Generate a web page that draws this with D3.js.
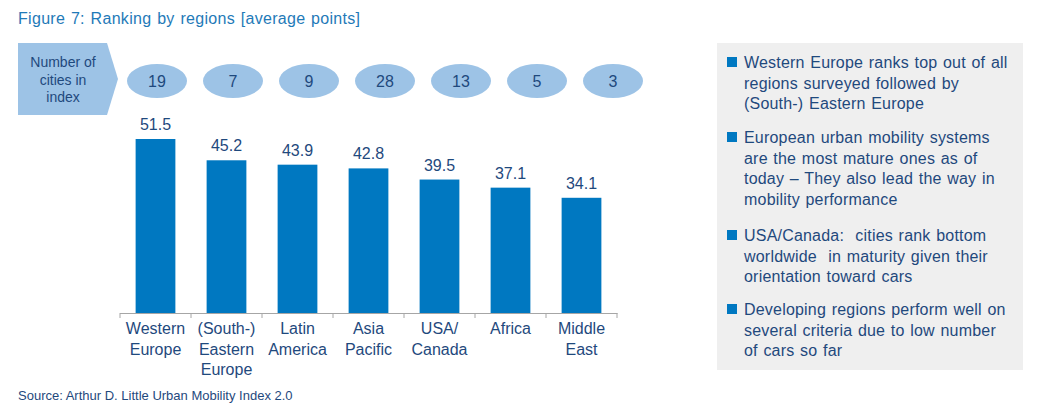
<!DOCTYPE html>
<html><head><meta charset="utf-8">
<script src="https://cdn.jsdelivr.net/npm/d3@7"></script>
<style>body{margin:0;background:#fff}svg{display:block;font-family:"Liberation Sans",Arial,sans-serif}</style>
</head><body><svg id="c" width="1043" height="415"></svg>
<script>
const categories = [["Western","Europe"],["(South-)","Eastern","Europe"],["Latin","America"],["Asia","Pacific"],["USA/","Canada"],["Africa"],["Middle","East"]];
const scores = [51.5, 45.2, 43.9, 42.8, 39.5, 37.1, 34.1];
const cityCounts = [19, 7, 9, 28, 13, 5, 3];
const bullets = [
  ["Western Europe ranks top out of all","regions surveyed followed by","(South-) Eastern Europe"],
  ["European urban mobility systems","are the most mature ones as of","today \u2013 They also lead the way in","mobility performance"],
  ["USA/Canada:  cities rank bottom","worldwide  in maturity given their","orientation toward cars"],
  ["Developing regions perform well on","several criteria due to low number","of cars so far"]
];
const title = "Figure 7: Ranking by regions [average points]";
const source = "Source: Arthur D. Little Urban Mobility Index 2.0";

const svg = d3.select("#c");
const textCol = "#1f497d", barCol = "#0078c1", ellCol = "#9dc3e6";
const keys = categories.map((c,i)=>i);

const x = d3.scaleBand().domain(keys).range([120, 617]).paddingInner(0.44).paddingOuter(0.22);
const y = d3.scaleLinear().domain([0, 51.5]).range([313, 139]);

svg.append("text").attr("x",18).attr("y",24).attr("fill","#1f7ab8").attr("font-size",16)
  .attr("letter-spacing",0.3).attr("word-spacing",1).text(title);

// bars
svg.selectAll("rect.bar").data(scores).join("rect").attr("class","bar")
  .attr("x",(d,i)=>x(i)).attr("width",x.bandwidth()).attr("y",d=>y(d)).attr("height",d=>y(0)-y(d)).attr("fill",barCol);
svg.selectAll("text.val").data(scores).join("text").attr("class","val")
  .attr("x",(d,i)=>x(i)+x.bandwidth()/2).attr("y",d=>y(d)-9).attr("text-anchor","middle")
  .attr("font-size",16).attr("fill",textCol).text(d=>d.toFixed(1));

// axis
const ax = svg.append("g").attr("transform","translate(0,313)")
  .call(d3.axisBottom(x).tickSize(0).tickFormat(""));
ax.select(".domain").attr("stroke","#a6a6a6");
const edges = keys.map(i=>x(i)-x.step()*x.paddingInner()/2).concat([x(keys.length-1)+x.bandwidth()+x.step()*x.paddingInner()/2]);
svg.selectAll("line.tk").data(edges).join("line").attr("class","tk")
  .attr("x1",d=>d).attr("x2",d=>d).attr("y1",313).attr("y2",318).attr("stroke","#a6a6a6");
svg.append("line").attr("x1",edges[0]).attr("x2",edges[edges.length-1]).attr("y1",313.5).attr("y2",313.5).attr("stroke","#a6a6a6");

categories.forEach((lines,i)=>{
  const t = svg.append("text").attr("x",x(i)+x.bandwidth()/2).attr("y",334).attr("text-anchor","middle").attr("font-size",16).attr("fill",textCol);
  lines.forEach((l,j)=>t.append("tspan").attr("x",x(i)+x.bandwidth()/2).attr("dy",j?20.5:0).text(l));
});

// number-of-cities pentagon
svg.append("path").attr("d","M18,43 L107,43 L118,79 L107,115 L18,115 Z").attr("fill",ellCol);
const pt = svg.append("text").attr("x",63).attr("y",67).attr("text-anchor","middle").attr("font-size",14).attr("fill",textCol);
["Number of","cities in","index"].forEach((l,j)=>pt.append("tspan").attr("x",63).attr("dy",j?17.5:0).text(l));

const xe = d3.scalePoint().domain(keys).range([157, 613]);
svg.selectAll("ellipse.n").data(cityCounts).join("ellipse").attr("class","n")
  .attr("cx",(d,i)=>xe(i)).attr("cy",81).attr("rx",30).attr("ry",17).attr("fill",ellCol);
svg.selectAll("text.n").data(cityCounts).join("text").attr("class","n")
  .attr("x",(d,i)=>xe(i)).attr("y",87).attr("text-anchor","middle").attr("font-size",16).attr("fill",textCol).text(d=>d);

// right panel
svg.append("rect").attr("x",717).attr("y",43).attr("width",306).attr("height",327).attr("fill","#efefef");
const starts = [68, 143, 241, 315];
bullets.forEach((b,i)=>{
  svg.append("rect").attr("x",727).attr("y",starts[i]-11).attr("width",10).attr("height",10).attr("fill",barCol);
  const t = svg.append("text").attr("x",744).attr("y",starts[i]).attr("font-size",16).attr("fill",textCol)
    .attr("letter-spacing",0.2).attr("word-spacing",1);
  b.forEach((l,j)=>t.append("tspan").attr("x",744).attr("dy",j?20.5:0).style("white-space","pre").text(l));
});

svg.append("text").attr("x",18).attr("y",400).attr("font-size",13).attr("fill",textCol).text(source);
</script></body></html>
